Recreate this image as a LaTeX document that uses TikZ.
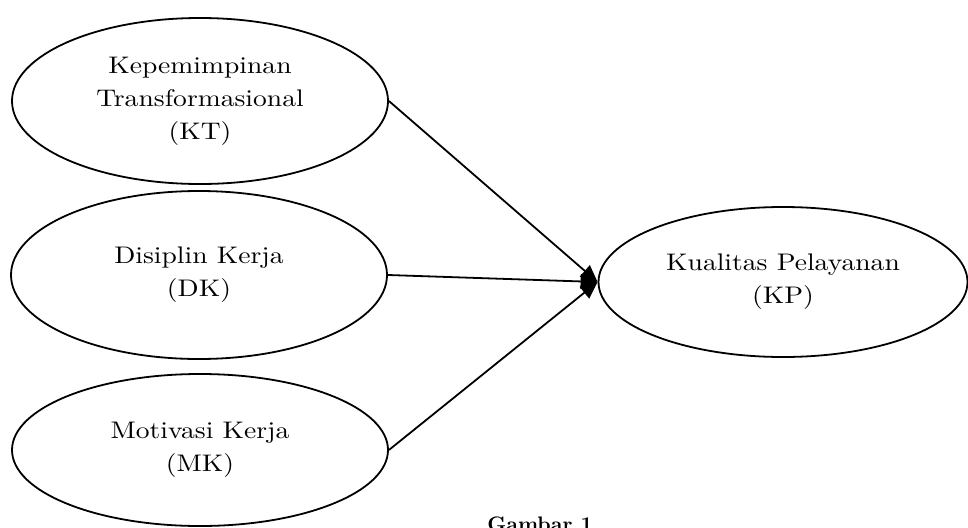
\documentclass[tikz,border=0pt]{standalone}
\usepackage{fontspec}
\setmainfont{lmroman10-regular.otf}[FakeStretch=1.15, BoldFont=lmroman10-bold.otf]
\newfontfamily\capfont{lmroman10-bold.otf}
\usetikzlibrary{arrows.meta,shapes.geometric}
\begin{document}
\begin{tikzpicture}[x=1pt,y=-1pt,
  var/.style={draw, line width=1.8pt, ellipse, inner sep=0pt, align=center,
    font=\fontsize{24}{33}\selectfont},
  path/.style={line width=1.8pt, -{Triangle[length=17pt,width=15pt]}}]
\useasboundingbox (0,0) rectangle (968,527);
\node[var, minimum width=376pt, minimum height=166pt] (KT) at (200,101)
  {Kepemimpinan\\Transformasional\\(KT)};
\node[var, minimum width=376pt, minimum height=168pt] (DK) at (199,275)
  {Disiplin Kerja\\(DK)};
\node[var, minimum width=376pt, minimum height=152pt] (MK) at (200,450)
  {Motivasi Kerja\\(MK)};
\node[var, minimum width=369pt, minimum height=150pt] (KP) at (783,282)
  {Kualitas Pelayanan\\(KP)};
\node[font=\capfont\fontsize{21}{25}\selectfont, anchor=north, inner sep=0pt] (cap) at (540,517) {Gambar 1};
\draw[path] (KT.east) -- (KP.west);
\draw[path] (DK.east) -- (KP.west);
\draw[path] (MK.east) -- (KP.west);
\end{tikzpicture}
\end{document}
